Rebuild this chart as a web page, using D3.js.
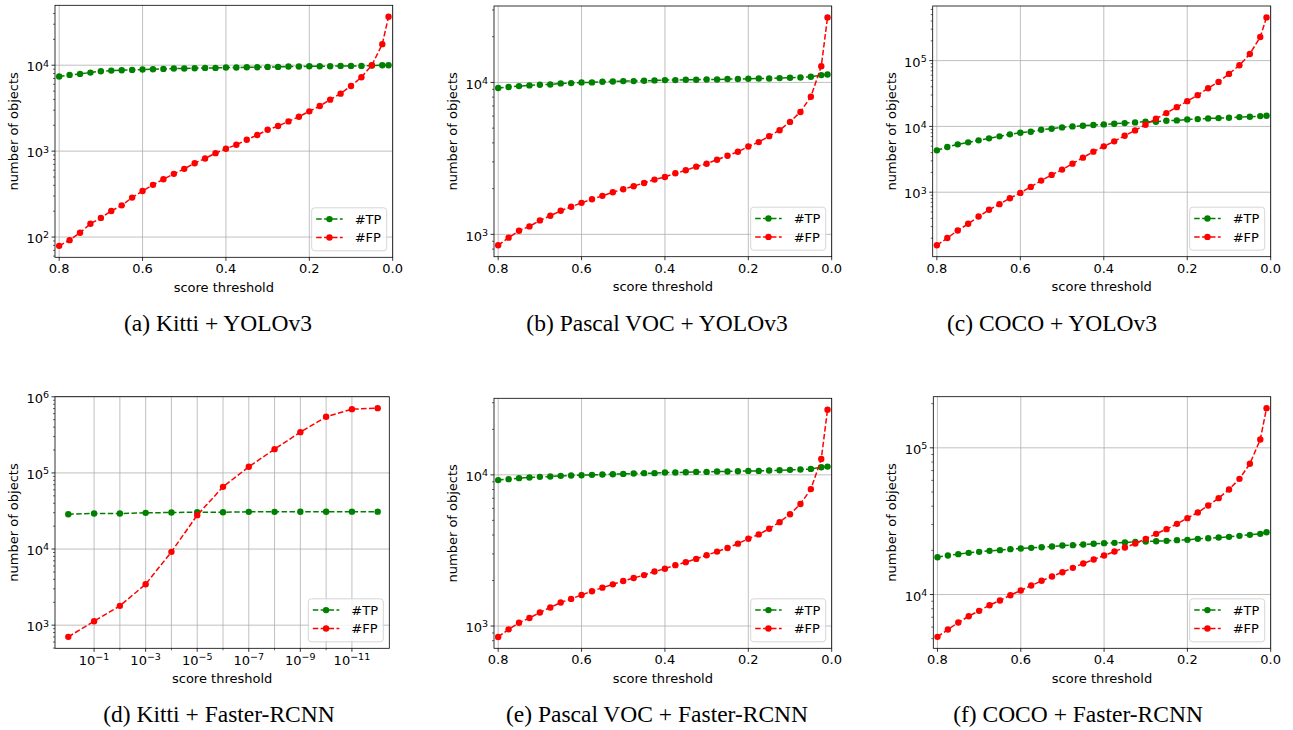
<!DOCTYPE html>
<html><head><meta charset="utf-8">
<script src="https://cdn.jsdelivr.net/npm/d3@7"></script>
<style>body{margin:0;background:#fff;} svg{display:block;}</style>
</head><body><svg id="fig" width="1293" height="730"></svg>
<script>
// ---------- data ----------
const scoreThresholds = [0.8,0.775,0.75,0.725,0.7,0.675,0.65,0.625,0.6,0.575,0.55,0.525,0.5,0.475,0.45,0.425,0.4,0.375,0.35,0.325,0.3,0.275,0.25,0.225,0.2,0.175,0.15,0.125,0.1,0.075,0.05,0.025,0.01];
const kittiRcnnThresholds = [1,1e-1,1e-2,1e-3,1e-4,1e-5,1e-6,1e-7,1e-8,1e-9,1e-10,1e-11,1e-12];

const tpKittiYolo = [7380,7710,7920,8210,8510,8660,8740,8820,8900,8980,9060,9140,9140,9230,9310,9310,9390,9390,9480,9480,9560,9560,9650,9650,9730,9730,9730,9820,9820,9820,9910,10000,10000];
const fpKittiYolo = [79,92,112,143,167,201,234,288,344,405,471,544,622,724,821,948,1065,1186,1357,1538,1775,1958,2220,2517,2904,3350,3974,4669,5739,7244,10000,17590,36650];

const tpVocYolo = [9180,9320,9460,9560,9650,9700,9850,9900,10000,10000,10100,10150,10200,10200,10250,10310,10360,10360,10410,10410,10460,10460,10520,10520,10570,10620,10620,10680,10730,10780,10890,11170,11280];
const fpVocYolo = [847,951,1057,1128,1235,1325,1429,1518,1612,1704,1792,1894,1982,2074,2180,2293,2386,2522,2639,2789,2918,3099,3292,3497,3790,4046,4430,4849,5498,6393,8055,12790,26790];

const tpCocoYolo = [4330,4860,5340,5720,6140,6580,7060,7570,8020,8300,8900,9220,9660,10000,10240,10480,10720,10980,11230,11500,11770,11770,12190,12330,12770,12920,13220,13370,13530,13850,14010,14340,14510];
const fpCocoYolo = [156,201,262,331,428,540,658,811,977,1204,1502,1832,2205,2717,3352,4133,4977,5928,7219,8697,10600,13070,15920,19630,24190,29830,38100,47500,62820,84960,126200,228400,453600];

const tpKittiRcnn = [28700,29300,29300,29900,30200,30500,30500,30800,30800,30900,30900,31000,31000];
const fpKittiRcnn = [702,1127,1794,3454,9190,27860,65660,120300,205300,343300,546100,688400,709700];

const tpVocRcnn = [9230,9370,9510,9610,9700,9750,9850,9900,9950,10000,10050,10100,10150,10200,10260,10260,10360,10360,10410,10460,10460,10520,10520,10570,10620,10620,10680,10730,10790,10840,10950,11230,11340];
const fpVocRcnn = [847,951,1052,1129,1229,1326,1430,1512,1606,1697,1794,1887,1985,2077,2173,2296,2391,2527,2645,2781,2940,3106,3284,3507,3782,4038,4398,4866,5491,6418,8052,12740,26990];

const tpCocoRcnn = [17970,18450,18840,19240,19540,19850,20060,20380,20590,20810,21020,21250,21580,21700,21920,22160,22390,22510,22620,22860,22980,23100,23220,23470,23590,23960,24210,24460,24720,25120,25520,25910,26600];
const fpCocoRcnn = [5145,5773,6443,7117,7738,8460,9101,9897,10650,11520,12400,13270,14200,15200,16270,17320,18450,19650,20920,22270,23960,25920,27900,30330,33160,36240,40440,45380,51980,61450,77790,114000,186400];

const linearTickValues = [0.8,0.6,0.4,0.2,0.0];
const linearTickLabels = ["0.8","0.6","0.4","0.2","0.0"];
const logXTickValues = [1e-1,1e-3,1e-5,1e-7,1e-9,1e-11];
const logXTickExponents = ["\u22121","\u22123","\u22125","\u22127","\u22129","\u221211"];
const logXGridValues = [1e-1,1e-2,1e-3,1e-4,1e-5,1e-6,1e-7,1e-8,1e-9,1e-10,1e-11];
const seriesNames = ["#TP","#FP"];
const seriesColors = ["#008000","#ff0000"];
const captions = ["(a) Kitti + YOLOv3","(b) Pascal VOC + YOLOv3","(c) COCO + YOLOv3",
                  "(d) Kitti + Faster-RCNN","(e) Pascal VOC + Faster-RCNN","(f) COCO + Faster-RCNN"];
const xLabel = "score threshold";
const yLabel = "number of objects";

// ---------- layout ----------
const panels = [
  {box:[55,5.3,392.7,257.3], cap:[218,331], xKind:"linear", xs:scoreThresholds, tp:tpKittiYolo, fp:fpKittiYolo},
  {box:[494,6,831.7,256.7], cap:[657,331], xKind:"linear", xs:scoreThresholds, tp:tpVocYolo, fp:fpVocYolo},
  {box:[932.7,6,1270.7,256.7], cap:[1052,331], xKind:"linear", xs:scoreThresholds, tp:tpCocoYolo, fp:fpCocoYolo},
  {box:[55,396.7,389.3,648.3], cap:[219,722], xKind:"log", xs:kittiRcnnThresholds, tp:tpKittiRcnn, fp:fpKittiRcnn},
  {box:[494,398.3,831.7,648.3], cap:[657,722], xKind:"linear", xs:scoreThresholds, tp:tpVocRcnn, fp:fpVocRcnn},
  {box:[933.3,396.7,1270.7,648.3], cap:[1078,722], xKind:"linear", xs:scoreThresholds, tp:tpCocoRcnn, fp:fpCocoRcnn}
];

const svg = d3.select("#fig");
const SANS = "'DejaVu Sans', sans-serif";
const SERIF = "'Liberation Serif', 'Times New Roman', serif";
const GRID = "#b0b0b0";

function powLabel(sel, base, exp, x, y, anchor) {
  const t = sel.append("text").attr("x", x).attr("y", y).attr("text-anchor", anchor)
    .attr("font-family", SANS).attr("font-size", 13).attr("fill", "#000");
  t.append("tspan").text(base);
  t.append("tspan").attr("font-size", 9.5).attr("dy", -4.8).text(exp);
  return t;
}

panels.forEach((p, i) => {
  const [L, T, R, B] = p.box;
  const g = svg.append("g");
  const x = p.xKind === "linear"
    ? d3.scaleLinear().domain([0.81, 0]).range([L, R])
    : d3.scaleLog().domain([Math.pow(10, 0.516), Math.pow(10, -12.45)]).range([L, R]);
  const all = p.tp.concat(p.fp);
  const lo = Math.log10(d3.min(all)), hi = Math.log10(d3.max(all)), pad = (hi - lo) * 0.05;
  const y = d3.scaleLog().domain([Math.pow(10, lo - pad), Math.pow(10, hi + pad)]).range([B, T]);

  const eLo = Math.ceil(lo - pad - 0.01), eHi = Math.floor(hi + pad + 0.01);
  const majorY = d3.range(eLo, eHi + 1);
  const minorY = [];
  for (let e = Math.floor(lo - pad); e <= Math.floor(hi + pad); e++)
    for (let m = 2; m <= 9; m++) {
      const v = m * Math.pow(10, e);
      if (v >= y.domain()[0] && v <= y.domain()[1]) minorY.push(v);
    }
  const yPos = v => Math.max(T, Math.min(B, y(v)));

  // grid
  const xGrid = p.xKind === "linear" ? linearTickValues : logXGridValues;
  g.selectAll(".vg").data(xGrid).join("line")
    .attr("x1", d => x(d)).attr("x2", d => x(d)).attr("y1", T).attr("y2", B)
    .attr("stroke", GRID).attr("stroke-width", 0.8);
  g.selectAll(".hg").data(majorY).join("line")
    .attr("x1", L).attr("x2", R).attr("y1", d => yPos(Math.pow(10, d))).attr("y2", d => yPos(Math.pow(10, d)))
    .attr("stroke", GRID).attr("stroke-width", 0.8);

  // series
  [p.tp, p.fp].forEach((vals, si) => {
    const pts = vals.map((v, k) => [x(p.xs[k]), y(v)]);
    g.append("path").attr("d", d3.line()(pts)).attr("fill", "none")
      .attr("stroke", seriesColors[si]).attr("stroke-width", 1.5).attr("stroke-dasharray", "5.5,2.4");
    g.selectAll(null).data(pts).join("circle")
      .attr("cx", d => d[0]).attr("cy", d => d[1]).attr("r", 3.2).attr("fill", seriesColors[si]);
  });

  // spines
  g.append("rect").attr("x", L).attr("y", T).attr("width", R - L).attr("height", B - T)
    .attr("fill", "none").attr("stroke", "#000").attr("stroke-width", 0.8);

  // y ticks
  majorY.forEach(e => {
    const yy = yPos(Math.pow(10, e));
    g.append("line").attr("x1", L - 3.5).attr("x2", L).attr("y1", yy).attr("y2", yy).attr("stroke", "#000").attr("stroke-width", 0.8);
    powLabel(g, "10", String(e), L - 6, yy + 6.2, "end");
  });
  minorY.forEach(v => {
    const yy = y(v);
    g.append("line").attr("x1", L - 2).attr("x2", L).attr("y1", yy).attr("y2", yy).attr("stroke", "#000").attr("stroke-width", 0.6);
  });

  // x ticks
  if (p.xKind === "linear") {
    linearTickValues.forEach((v, k) => {
      const xx = x(v);
      g.append("line").attr("x1", xx).attr("x2", xx).attr("y1", B).attr("y2", B + 3.5).attr("stroke", "#000").attr("stroke-width", 0.8);
      g.append("text").attr("x", xx).attr("y", B + 15.8).attr("text-anchor", "middle")
        .attr("font-family", SANS).attr("font-size", 13).text(linearTickLabels[k]);
    });
  } else {
    logXGridValues.forEach(v => {
      const major = logXTickValues.includes(v);
      const xx = x(v);
      g.append("line").attr("x1", xx).attr("x2", xx).attr("y1", B).attr("y2", B + (major ? 3.5 : 2))
        .attr("stroke", "#000").attr("stroke-width", major ? 0.8 : 0.6);
    });
    logXTickValues.forEach((v, k) => {
      powLabel(g, "10", logXTickExponents[k], x(v), B + 16.5, "middle");
    });
  }

  // axis labels
  g.append("text").attr("x", (L + R) / 2).attr("y", B + 34.5).attr("text-anchor", "middle")
    .attr("font-family", SANS).attr("font-size", 13).text(xLabel);
  g.append("text").attr("transform", `translate(${L - 37},${(T + B) / 2}) rotate(-90)`)
    .attr("text-anchor", "middle").attr("font-family", SANS).attr("font-size", 13).text(yLabel);

  // legend
  const lw = 75, lh = 43;
  const lx = R - 6 - lw, ly = B - 6.5 - lh;
  g.append("rect").attr("x", lx).attr("y", ly).attr("width", lw).attr("height", lh).attr("rx", 3)
    .attr("fill", "#fff").attr("fill-opacity", 0.8).attr("stroke", "#cccccc").attr("stroke-width", 0.8);
  seriesNames.forEach((name, si) => {
    const cy = ly + 11.3 + si * 18.4;
    g.append("line").attr("x1", lx + 4.5).attr("x2", lx + 31).attr("y1", cy).attr("y2", cy)
      .attr("stroke", seriesColors[si]).attr("stroke-width", 1.5).attr("stroke-dasharray", "5.5,2.4");
    g.append("circle").attr("cx", lx + 17.75).attr("cy", cy).attr("r", 3.2).attr("fill", seriesColors[si]);
    g.append("text").attr("x", lx + 43).attr("y", cy + 4.7).attr("font-family", SANS).attr("font-size", 13).text(name);
  });

  // caption
  svg.append("text").attr("x", p.cap[0]).attr("y", p.cap[1]).attr("text-anchor", "middle")
    .attr("font-family", SERIF).attr("font-size", 23.5).attr("fill", "#000").text(captions[i]);
});
</script>
</body></html>
